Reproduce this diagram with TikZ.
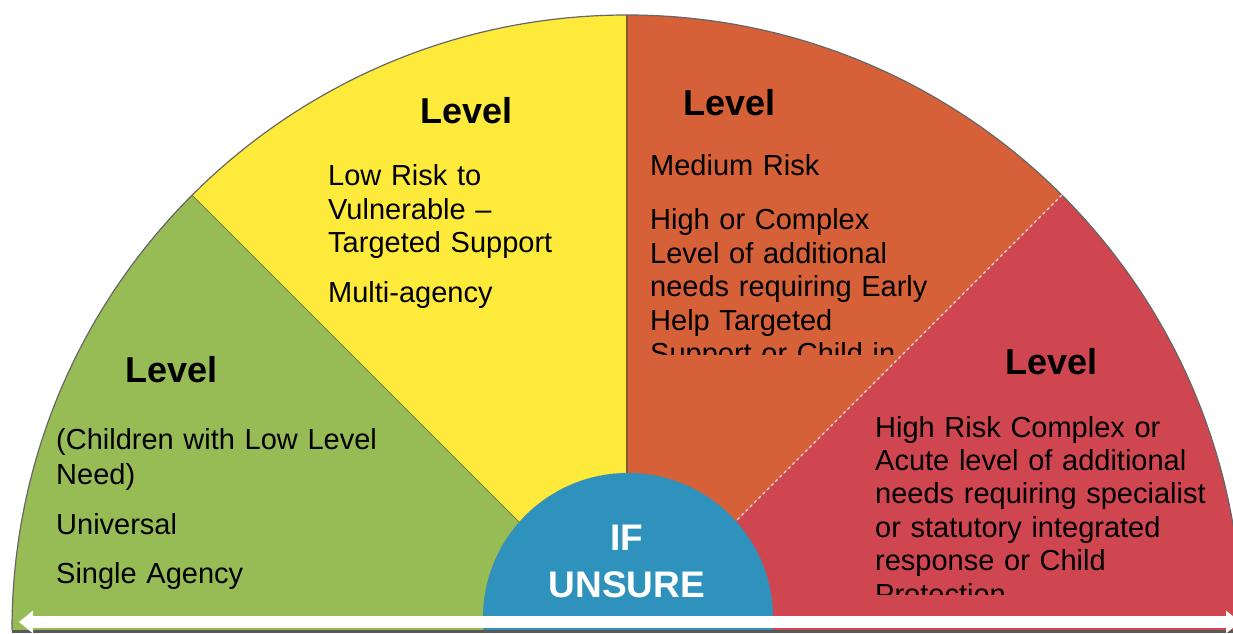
\documentclass[tikz,border=0pt]{standalone}
\usepackage{fontspec}
\setmainfont{Liberation Sans}
\usepackage{xcolor}
\usepackage{tikz}
\usetikzlibrary{arrows.meta}
\definecolor{levelgreen}{RGB}{151,187,85}
\definecolor{levelyellow}{RGB}{253,234,58}
\definecolor{levelorange}{RGB}{214,96,56}
\definecolor{levelred}{RGB}{207,70,80}
\definecolor{unsureblue}{RGB}{46,146,188}
\tikzstyle{every node}=[inner sep=0pt,anchor=base west]
\tikzstyle{level}=[font=\fontsize{36}{40}\selectfont\bfseries]
\tikzstyle{body}=[font=\fontsize{29}{33.4}\selectfont,text width=400pt,align=left]
\tikzstyle{unsure}=[font=\fontsize{37}{47}\selectfont\bfseries,text=white,text width=250pt,align=center,anchor=base]
\tikzstyle{span}=[white,line width=12pt,{Triangle[length=14pt,width=22pt]}-{Triangle[length=14pt,width=22pt]}]

\begin{document}
\begin{tikzpicture}[x=1pt,y=1pt]
	\useasboundingbox (0,0) rectangle (1233,633);
	\coordinate (c) at (627,3);
	\fill[levelgreen] (c) -- ++(180:615) arc[start angle=180,end angle=135,radius=615] -- cycle;
	\fill[levelyellow] (c) -- ++(135:615) arc[start angle=135,end angle=90,radius=615] -- cycle;
	\fill[levelorange] (c) -- ++(90:615) arc[start angle=90,end angle=45,radius=615] -- cycle;
	\fill[levelred] (c) -- ++(45:615) arc[start angle=45,end angle=0,radius=615] -- cycle;
	\draw[gray!80!black,line width=1.2pt] (c) ++(180:615) arc[start angle=180,end angle=0,radius=615];
	\draw[olive!60!black] (c) -- ++(135:615);
	\draw[brown!70!black,line width=1.5pt] (c) -- ++(90:615);
	\draw[white!75!gray,dashed,line width=1.2pt] (c) -- ++(45:615);
	\begin{scope}
		\clip (0,3) rectangle (1233,633);
		\filldraw[fill=unsureblue,draw=gray,densely dotted] (628,15) circle[radius=145];
	\end{scope}
	\draw[gray!70!black,line width=3pt] (12,1.5) -- (1242,1.5);

	\node[level] (greenlevel) at (125,251) {Level};
	\node[body] (greentext) at (56,184) {(Children with Low Level\\[2.5pt]Need)\\[16pt]Universal\\[16pt]Single Agency};

	\node[level] (yellowlevel) at (420,509) {Level};
	\node[body] (yellowtext) at (328,447) {Low Risk to\\Vulnerable –\\Targeted Support\\[16.6pt]Multi-agency};

	\node[level] (orangelevel) at (683,517) {Level};
	\begin{scope}
		\clip (640,279) rectangle (1000,480);
		\node[body] (orangetext) at (650,457) {Medium Risk\\[20.6pt]High or Complex\\Level of additional\\needs requiring Early\\Help Targeted\\Support or Child in};
	\end{scope}

	\node[level] (redlevel) at (1005,259) {Level};
	\begin{scope}
		\clip (860,39) rectangle (1233,240);
		\node[body] (redtext) at (875,196) {High Risk Complex or\\Acute level of additional\\needs requiring specialist\\or statutory integrated\\response or Child\\Protection};
	\end{scope}

	\node[unsure] (unsure) at (627,83) {IF\\UNSURE};

	\coordinate (spanleft) at (19,11);
	\coordinate (spanright) at (1240,11);
	\draw[span] (spanleft) -- (spanright);
\end{tikzpicture}
\end{document}
